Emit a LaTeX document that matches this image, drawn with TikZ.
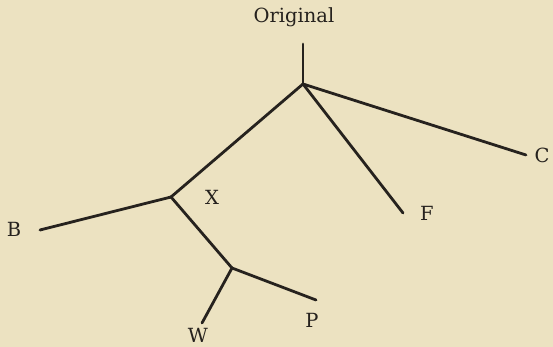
\documentclass[tikz,border=0pt]{standalone}
\usepackage{fontspec}
\setmainfont{DejaVu Serif}
\definecolor{paper}{RGB}{236,226,193}
\definecolor{ink}{RGB}{38,34,30}
\begin{document}
\begin{tikzpicture}[x=1pt,y=-1pt,
  branch/.style={draw=ink,line width=2.8pt,line cap=round,line join=round},
  lab/.style={text=ink,inner sep=0pt,font=\fontsize{19.5}{23}\selectfont}]
\fill[paper] (0,0) rectangle (553,347);
\useasboundingbox (0,0) rectangle (553,347);
% labels
\node[lab] (orig) at (294,17) {Original};
\node[lab] (lc) at (542,155) {C};
\node[lab] (lf) at (427,213) {F};
\node[lab] (lx) at (212,197) {X};
\node[lab] (lb) at (14,229) {B};
\node[lab] (lp) at (312,320) {P};
\node[lab] (lw) at (198,335) {W};
% points
\coordinate (top) at (303,44);
\coordinate (o) at (303,84);
\coordinate (c) at (526,155);
\coordinate (f) at (403,213);
\coordinate (x) at (171,197);
\coordinate (b) at (40,230);
\coordinate (y) at (232,268);
\coordinate (p) at (316,300);
\coordinate (w) at (202,323);
% branches
\draw[branch] (top) -- (o);
\draw[branch] (o) -- (c);
\draw[branch] (o) -- (f);
\draw[branch] (o) -- (x);
\draw[branch] (x) -- (b);
\draw[branch] (x) -- (y);
\draw[branch] (y) -- (p);
\draw[branch] (y) -- (w);
\end{tikzpicture}
\end{document}
